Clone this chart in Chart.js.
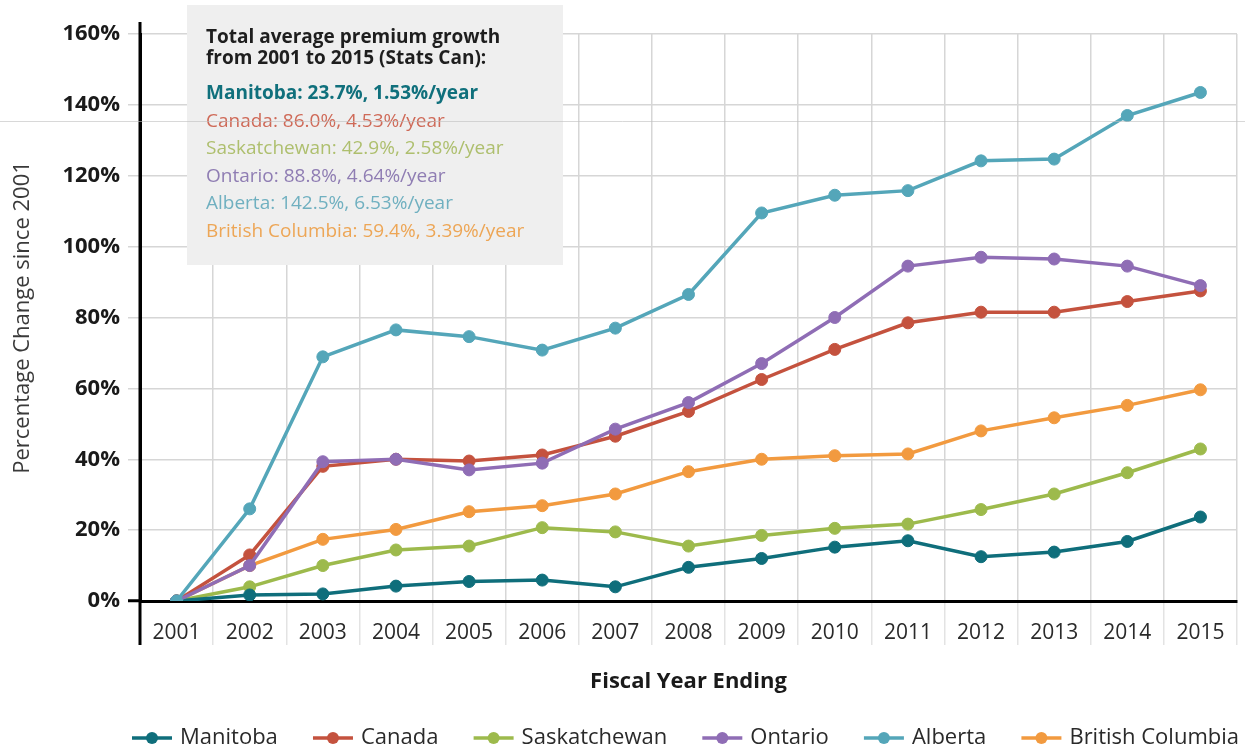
<!DOCTYPE html>
<html>
<head>
<meta charset="utf-8">
<script src="https://cdn.jsdelivr.net/npm/chart.js@4.4.1/dist/chart.umd.min.js"></script>
<style>
  html, body { margin: 0; padding: 0; background: #ffffff; }
  #wrap { position: relative; width: 1245px; height: 750px; }
</style>
</head>
<body>
<div id="wrap"><canvas id="c" width="1245" height="750"></canvas></div>
<script>
// ---- data ----
const years = ['2001','2002','2003','2004','2005','2006','2007','2008','2009','2010','2011','2012','2013','2014','2015'];
const manitoba        = [0, 1.7, 2, 4.2, 5.5, 5.9, 4, 9.5, 12, 15.2, 17, 12.5, 13.8, 16.8, 23.7];
const canada          = [0, 13, 38, 40, 39.5, 41.2, 46.5, 53.5, 62.5, 71, 78.5, 81.5, 81.5, 84.5, 87.5];
const saskatchewan    = [0, 4, 10, 14.4, 15.5, 20.7, 19.5, 15.5, 18.5, 20.5, 21.7, 25.8, 30.2, 36.2, 42.9];
const ontario         = [0, 10, 39.3, 40, 37, 38.9, 48.5, 56, 67, 80, 94.5, 97, 96.5, 94.5, 89];
const alberta         = [0, 26, 68.9, 76.5, 74.6, 70.8, 77, 86.5, 109.5, 114.5, 115.8, 124.2, 124.7, 137, 143.5];
const britishColumbia = [0, 10, 17.4, 20.2, 25.2, 26.9, 30.2, 36.5, 40, 41, 41.5, 48, 51.7, 55.2, 59.6];

const seriesNames  = ['Manitoba', 'Canada', 'Saskatchewan', 'Ontario', 'Alberta', 'British Columbia'];
const seriesColors = ['#0f6e7b', '#c4523e', '#9dba4c', '#8f6db5', '#54a6b9', '#f29a3f'];
const seriesOrder  = [2, 3, 4, 1, 0, 5];
const noteColors   = ['#10707c', '#cf6a58', '#aebf6e', '#8f7db3', '#70b0c0', '#eda656'];

const noteTitle = ['Total average premium growth', 'from 2001 to 2015 (Stats Can):'];
const noteLines = [
  'Manitoba: 23.7%, 1.53%/year',
  'Canada: 86.0%, 4.53%/year',
  'Saskatchewan: 42.9%, 2.58%/year',
  'Ontario: 88.8%, 4.64%/year',
  'Alberta: 142.5%, 6.53%/year',
  'British Columbia: 59.4%, 3.39%/year'
];

const yMin = 0, yMax = 160, yStep = 20;
const xTitle = 'Fiscal Year Ending';
const yTitle = 'Percentage Change since 2001';

// ---- chart ----
const FONT = "'Open Sans', 'Noto Sans', sans-serif";
const allSeries = [manitoba, canada, saskatchewan, ontario, alberta, britishColumbia];

const datasets = allSeries.map((d, i) => ({
  label: seriesNames[i],
  data: d,
  order: seriesOrder[i],
  borderColor: seriesColors[i],
  backgroundColor: seriesColors[i],
  pointBackgroundColor: seriesColors[i],
  pointBorderColor: seriesColors[i],
  borderWidth: 3.5,
  pointRadius: 6,
  pointBorderWidth: 1,
  tension: 0,
  fill: false
}));

const decor = {
  id: 'decor',
  beforeDatasetsDraw(chart) {
    const ctx = chart.ctx;
    ctx.save();
    ctx.fillStyle = '#efefef';
    ctx.fillRect(187, 5, 376, 260);
    ctx.textBaseline = 'middle';
    ctx.textAlign = 'left';
    ctx.fillStyle = '#1e1e1e';
    ctx.font = "bold 19px " + FONT;
    ctx.fillText(noteTitle[0], 206, 38);
    ctx.fillText(noteTitle[1], 206, 59);
    noteLines.forEach((t, i) => {
      ctx.font = (i === 0 ? 'bold ' : '') + '19px ' + FONT;
      ctx.fillStyle = noteColors[i];
      ctx.fillText(t, 206, 94 + i * 27.5);
    });
    ctx.restore();
  },
  afterDraw(chart) {
    const ctx = chart.ctx;
    const a = chart.chartArea;
    ctx.save();
    // y axis line extended above and below the plot
    ctx.strokeStyle = '#000';
    ctx.lineWidth = 3;
    ctx.beginPath();
    ctx.moveTo(a.left, a.top - 12);
    ctx.lineTo(a.left, a.bottom + 44);
    ctx.stroke();
    // faint scan line across the page
    ctx.strokeStyle = 'rgba(190,190,190,0.6)';
    ctx.lineWidth = 1;
    ctx.beginPath();
    ctx.moveTo(0, 121.5); ctx.lineTo(1245, 121.5);
    ctx.stroke();

    // legend (line + dot marker, spread between left and right edges)
    const ds = chart.data.datasets;
    const legY = 738, startX = 132, endX = 1239, mW = 40, mGap = 8;
    ctx.font = '22px ' + FONT;
    ctx.textBaseline = 'middle';
    ctx.textAlign = 'left';
    const widths = ds.map(d => mW + mGap + ctx.measureText(d.label).width);
    const total = widths.reduce((s, w) => s + w, 0);
    const gap = (endX - startX - total) / (ds.length - 1);
    let x = startX;
    ds.forEach((d, i) => {
      ctx.strokeStyle = d.borderColor;
      ctx.lineWidth = 3.5;
      ctx.beginPath(); ctx.moveTo(x, legY); ctx.lineTo(x + mW, legY); ctx.stroke();
      ctx.fillStyle = d.borderColor;
      ctx.beginPath(); ctx.arc(x + mW / 2, legY, 6, 0, Math.PI * 2); ctx.fill();
      ctx.fillStyle = '#2a2a2a';
      ctx.fillText(d.label, x + mW + mGap, legY);
      x += widths[i] + gap;
    });
    ctx.restore();
  }
};

new Chart(document.getElementById('c'), {
  type: 'line',
  data: { labels: years, datasets: datasets },
  plugins: [decor],
  options: {
    responsive: false,
    animation: false,
    layout: { padding: { top: 34, right: 8, left: 0, bottom: 0 } },
    plugins: {
      tooltip: { enabled: false },
      legend: { display: false }
    },
    scales: {
      x: {
        type: 'category',
        offset: true,
        grid: {
          offset: true,
          color: '#d6d6d6',
          lineWidth: 1.5,
          tickLength: 44,
          tickColor: '#e3e3e3'
        },
        border: { color: '#000', width: 3 },
        ticks: {
          padding: -25,
          color: '#2a2a2a',
          font: { family: FONT, size: 21 }
        },
        title: {
          display: true,
          text: xTitle,
          color: '#1a1a1a',
          font: { family: FONT, size: 22, weight: 'bold' },
          padding: { top: 10, bottom: 55 }
        },
        afterFit(s) { s.height = 149; }
      },
      y: {
        min: yMin,
        max: yMax,
        ticks: {
          stepSize: yStep,
          padding: 8,
          color: '#1a1a1a',
          font: { family: FONT, size: 22, weight: 'bold' },
          callback: v => v + '%'
        },
        grid: {
          color: '#d6d6d6',
          lineWidth: 1.5,
          tickLength: 12,
          tickColor: c => (c.tick && c.tick.value === 0) ? '#000' : '#d6d6d6',
          tickWidth: c => (c.tick && c.tick.value === 0) ? 3 : 1.5
        },
        border: { color: '#000', width: 3 },
        title: {
          display: true,
          text: yTitle,
          color: '#3a3a3a',
          font: { family: FONT, size: 22 },
          padding: { top: 10, bottom: 0 }
        },
        afterFit(s) { s.width = 140; }
      }
    }
  }
});
</script>
</body>
</html>
